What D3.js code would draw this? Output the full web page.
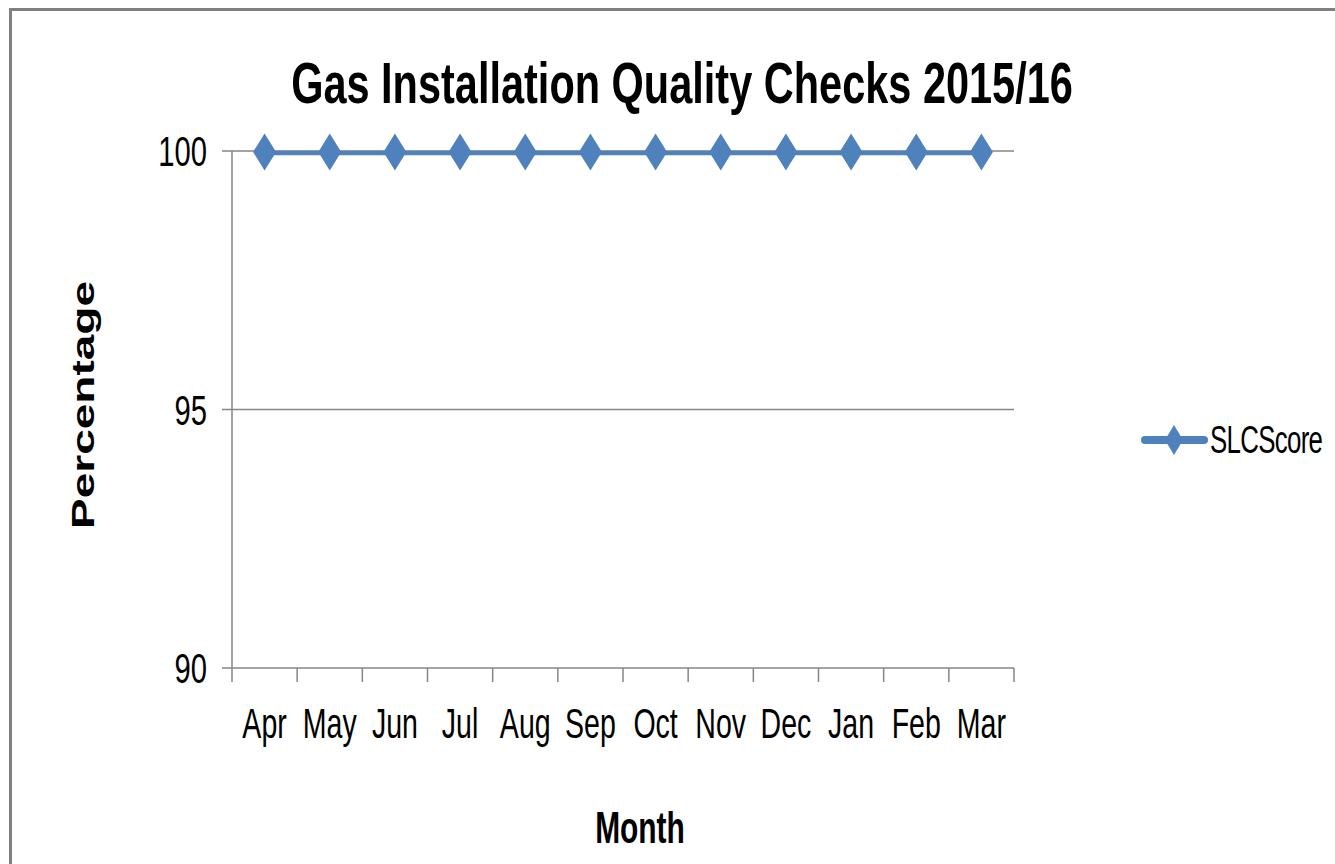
<!DOCTYPE html>
<html>
<head>
  <title>Gas Installation Quality Checks</title>
  <script src="https://cdn.jsdelivr.net/npm/d3@7"></script>
  <style>
    body { margin: 0; background: #fff; }
    text { font-family: "Liberation Sans", Arial, sans-serif; fill: #000; }
  </style>
</head>
<body>
  <svg width="1335" height="864" id="mainsvg"></svg>
  <script>
    // data
    const months = ['Apr', 'May', 'Jun', 'Jul', 'Aug', 'Sep', 'Oct', 'Nov', 'Dec', 'Jan', 'Feb', 'Mar'];
    const slcScore = [100, 100, 100, 100, 100, 100, 100, 100, 100, 100, 100, 100];
    const yTicks = [90, 95, 100];
    const seriesName = 'SLCScore';

    const svg = d3.select('#mainsvg');
    const blue = '#4F81BD';
    const grey = '#868686';
    const squash = 0.68; // picture is squeezed sideways

    // outer frame
    svg.append('rect')
      .attr('x', 10.5).attr('y', 9.5)
      .attr('width', 1400).attr('height', 900)
      .attr('fill', 'none')
      .attr('stroke', '#808080')
      .attr('stroke-width', 3);

    const plotL = 232, plotR = 1014, plotT = 151, plotB = 668;

    const x = d3.scaleBand().domain(months).range([plotL, plotR]);
    const y = d3.scaleLinear().domain([90, 100]).range([plotB, plotT]);

    // helper for squeezed text
    function label(tx, ty, str, size, weight, anchor, sx = squash) {
      return svg.append('text')
        .attr('transform', `translate(${tx},${ty}) scale(${sx},1)`)
        .attr('text-anchor', anchor)
        .attr('font-size', size)
        .attr('font-weight', weight)
        .text(str);
    }

    // gridlines
    svg.append('g').selectAll('line').data(yTicks)
      .enter().append('line')
      .attr('x1', plotL).attr('x2', plotR)
      .attr('y1', d => y(d)).attr('y2', d => y(d))
      .attr('stroke', grey).attr('stroke-width', 1.5);

    // y axis line + ticks
    svg.append('line')
      .attr('x1', plotL).attr('x2', plotL)
      .attr('y1', plotT).attr('y2', plotB)
      .attr('stroke', grey).attr('stroke-width', 1.5);
    svg.append('g').selectAll('line').data(yTicks)
      .enter().append('line')
      .attr('x1', plotL - 10).attr('x2', plotL)
      .attr('y1', d => y(d)).attr('y2', d => y(d))
      .attr('stroke', grey).attr('stroke-width', 1.5);
    yTicks.forEach(t => label(207, y(t) + 15, t, 43, 'normal', 'end'));

    // x ticks between categories
    const xEdges = months.map(m => x(m)).concat([plotR]);
    svg.append('g').selectAll('line').data(xEdges)
      .enter().append('line')
      .attr('x1', d => d).attr('x2', d => d)
      .attr('y1', plotB).attr('y2', plotB + 14)
      .attr('stroke', grey).attr('stroke-width', 1.5);
    months.forEach(m => label(x(m) + x.bandwidth() / 2, 738, m, 42, 'normal', 'middle'));

    // series line
    const line = d3.line()
      .x((d, i) => x(months[i]) + x.bandwidth() / 2)
      .y(d => y(d) + 2);
    svg.append('path')
      .datum(slcScore)
      .attr('d', line)
      .attr('fill', 'none')
      .attr('stroke', blue)
      .attr('stroke-width', 4.5);

    const diamond = (cx, cy, w, h) =>
      `M${cx},${cy - h / 2} L${cx + w / 2},${cy} L${cx},${cy + h / 2} L${cx - w / 2},${cy} Z`;
    svg.append('g').selectAll('path').data(slcScore)
      .enter().append('path')
      .attr('d', (d, i) => diamond(x(months[i]) + x.bandwidth() / 2, y(d) + 1, 23, 37))
      .attr('fill', blue);

    // titles
    label(682, 103, 'Gas Installation Quality Checks 2015/16', 57, 'bold', 'middle', 0.728);
    label(640, 843, 'Month', 44, 'bold', 'middle');
    svg.append('text')
      .attr('transform', `translate(94,405) rotate(-90) scale(1,${squash})`)
      .attr('text-anchor', 'middle')
      .attr('font-size', 46)
      .attr('font-weight', 'bold')
      .text('Percentage');

    // legend
    svg.append('line')
      .attr('x1', 1145).attr('x2', 1204)
      .attr('y1', 440).attr('y2', 440)
      .attr('stroke', blue).attr('stroke-width', 8)
      .attr('stroke-linecap', 'round');
    svg.append('path')
      .attr('d', diamond(1174, 440, 18, 30))
      .attr('fill', blue);
    svg.append('text')
      .attr('transform', `translate(1210,453) scale(0.68,1)`)
      .attr('font-family', '"Open Sans", sans-serif')
      .attr('font-size', 38)
      .attr('letter-spacing', -1)
      .text(seriesName);
  </script>
</body>
</html>
